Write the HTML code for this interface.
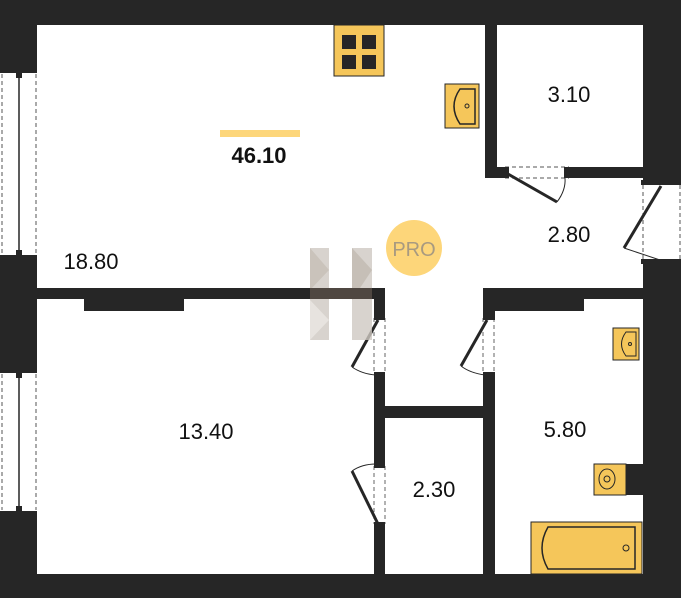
<!DOCTYPE html>
<html><head><meta charset="utf-8"><style>html,body{margin:0;padding:0;background:#fff}svg{display:block}</style></head>
<body>
<svg width="681" height="600" viewBox="0 0 681 600" xmlns="http://www.w3.org/2000/svg">
<rect x="0" y="0" width="681" height="598" fill="#262626"/>
<!-- rooms white -->
<rect x="37" y="25" width="448" height="263" fill="#fff"/>
<rect x="485" y="178" width="158" height="110" fill="#fff"/>
<rect x="497" y="25" width="146" height="142" fill="#fff"/>
<rect x="385" y="288" width="98" height="118" fill="#fff"/>
<rect x="37" y="299" width="337" height="275" fill="#fff"/>
<rect x="385" y="418" width="98" height="156" fill="#fff"/>
<rect x="495" y="299" width="148" height="275" fill="#fff"/>
<!-- wall thickenings -->
<rect x="84" y="299" width="100" height="12" fill="#262626"/>
<rect x="495" y="299" width="89" height="12" fill="#262626"/>
<!-- door opening in 3.10 wall -->
<rect x="505" y="167" width="64" height="11" fill="#fff"/>
<line x1="505" y1="167" x2="569" y2="167" stroke="#555" stroke-dasharray="4,3"/>
<line x1="505" y1="178" x2="569" y2="178" stroke="#555" stroke-dasharray="4,3"/>
<rect x="503" y="167" width="6" height="11" fill="#262626"/><rect x="564" y="167" width="6" height="11" fill="#262626"/>
<line x1="508" y1="174" x2="557" y2="202" stroke="#262626" stroke-width="3"/>
<path d="M557 202 Q566 190 565 178" fill="none" stroke="#262626" stroke-width="1"/>
<!-- entrance door right -->
<rect x="643" y="182" width="38" height="80" fill="#fff"/>
<rect x="641" y="180" width="40" height="5" fill="#262626"/><rect x="641" y="259" width="40" height="5" fill="#262626"/>
<line x1="643" y1="185" x2="643" y2="259" stroke="#555" stroke-dasharray="4,3"/>
<line x1="680" y1="185" x2="680" y2="259" stroke="#555" stroke-dasharray="4,3"/>
<line x1="661" y1="186" x2="624" y2="248" stroke="#262626" stroke-width="3"/>
<path d="M624 248 Q645 255 660 260" fill="none" stroke="#262626" stroke-width="1"/>
<!-- left windows -->
<g fill="#fff" stroke="#555">
<rect x="0" y="72" width="37" height="184" stroke="none"/>
<rect x="0" y="372" width="37" height="140" stroke="none"/>
</g>
<g stroke="#555" stroke-dasharray="4,3">
<line x1="2" y1="74" x2="2" y2="254"/><line x1="36" y1="74" x2="36" y2="254"/>
<line x1="2" y1="374" x2="2" y2="510"/><line x1="36" y1="374" x2="36" y2="510"/>
</g>
<line x1="19" y1="74" x2="19" y2="254" stroke="#262626" stroke-width="1.5"/>
<line x1="19" y1="374" x2="19" y2="510" stroke="#262626" stroke-width="1.5"/>
<rect x="0" y="69" width="37" height="4" fill="#262626"/><rect x="16" y="69" width="6" height="9" fill="#262626"/>
<rect x="0" y="255" width="37" height="4" fill="#262626"/><rect x="16" y="250" width="6" height="9" fill="#262626"/>
<rect x="0" y="369" width="37" height="4" fill="#262626"/><rect x="16" y="369" width="6" height="9" fill="#262626"/>
<rect x="0" y="511" width="37" height="4" fill="#262626"/><rect x="16" y="506" width="6" height="9" fill="#262626"/>
<!-- doors in vertical walls -->
<g>
<rect x="374" y="318" width="11" height="56" fill="#fff"/>
<rect x="374" y="466" width="11" height="58" fill="#fff"/>
<rect x="483" y="318" width="12" height="56" fill="#fff"/>
<g stroke="#666" stroke-dasharray="4,3">
<line x1="374" y1="318" x2="374" y2="374"/><line x1="385" y1="318" x2="385" y2="374"/>
<line x1="374" y1="466" x2="374" y2="524"/><line x1="385" y1="466" x2="385" y2="524"/>
<line x1="483" y1="318" x2="483" y2="374"/><line x1="494" y1="318" x2="494" y2="374"/>
</g>
<g fill="#262626">
<rect x="374" y="315" width="11" height="5"/><rect x="374" y="372" width="11" height="5"/>
<rect x="374" y="463" width="11" height="5"/><rect x="374" y="522" width="11" height="5"/>
<rect x="483" y="315" width="12" height="5"/><rect x="483" y="372" width="12" height="5"/>
</g>
<g stroke="#262626" stroke-width="3">
<line x1="378" y1="320" x2="352" y2="367"/>
<line x1="378" y1="524" x2="352" y2="471"/>
<line x1="487" y1="320" x2="461" y2="366"/>
</g>
<g fill="none" stroke="#262626" stroke-width="1">
<path d="M352 367 Q362 374 376 375"/>
<path d="M352 471 Q362 464 376 464"/>
<path d="M461 366 Q470 373 485 375"/>
</g>
</g>
<!-- logo H -->
<g opacity="0.8">
<rect x="310" y="248" width="19" height="92" fill="#cfc9c2"/>
<rect x="352" y="248" width="20" height="92" fill="#cfc9c2"/>
<polygon points="310,248 329,270 310,290" fill="#bdb5ab"/>
<polygon points="352,248 372,270 352,300" fill="#b8b0a6"/>
<polygon points="310,300 329,320 310,340" fill="#e2ddd8"/>
<rect x="310" y="288" width="62" height="11" fill="#5a5048"/>
</g>
<!-- PRO -->
<circle cx="414" cy="248" r="28" fill="#fdd67a"/>
<text x="414" y="256" font-family="Liberation Sans, sans-serif" font-size="20" fill="#a89a80" text-anchor="middle">PRO</text>
<!-- kitchen stove -->
<rect x="334" y="25" width="50" height="51" fill="#f5c65a" stroke="#262626" stroke-width="1"/>
<rect x="342" y="35" width="14" height="14" fill="#262626"/><rect x="362" y="35" width="14" height="14" fill="#262626"/>
<rect x="342" y="55" width="14" height="14" fill="#262626"/><rect x="362" y="55" width="14" height="14" fill="#262626"/>
<!-- kitchen sink -->
<rect x="445" y="84" width="34" height="44" fill="#f5c65a" stroke="#262626"/>
<path d="M475 89 L460 89 Q448 106 460 124 L475 124 Z" fill="none" stroke="#262626" stroke-width="1.5"/>
<circle cx="467" cy="106" r="2" fill="none" stroke="#262626"/>
<!-- bath sink -->
<rect x="613" y="328" width="26" height="32" fill="#f5c65a" stroke="#262626"/>
<path d="M636 332 L626 332 Q617 344 626 356 L636 356 Z" fill="none" stroke="#262626"/>
<circle cx="630" cy="344" r="1.5" fill="none" stroke="#262626"/>
<!-- toilet -->
<rect x="594" y="464" width="32" height="31" fill="#f5c65a" stroke="#262626"/>
<rect x="626" y="464" width="17" height="31" fill="#262626"/>
<ellipse cx="607" cy="479" rx="8" ry="10" fill="none" stroke="#262626"/>
<circle cx="607" cy="479" r="3" fill="none" stroke="#262626"/>
<!-- bath -->
<rect x="531" y="522" width="111" height="52" fill="#f5c65a" stroke="#262626"/>
<path d="M635 527 L548 527 Q536 548 548 569 L635 569 Z" fill="none" stroke="#262626" stroke-width="1.5"/>
<circle cx="626" cy="548" r="3" fill="none" stroke="#262626"/>
<!-- yellow bar -->
<rect x="220" y="130" width="80" height="7" fill="#fdd67a"/>
<g font-family="Liberation Sans, sans-serif" fill="#111" text-anchor="middle">
<text x="259" y="163" font-size="22" font-weight="bold">46.10</text>
<text x="569" y="102" font-size="22">3.10</text>
<text x="569" y="242" font-size="22">2.80</text>
<text x="91" y="269" font-size="22">18.80</text>
<text x="206" y="439" font-size="22">13.40</text>
<text x="434" y="497" font-size="22">2.30</text>
<text x="565" y="437" font-size="22">5.80</text>
</g>
</svg>
</body></html>
